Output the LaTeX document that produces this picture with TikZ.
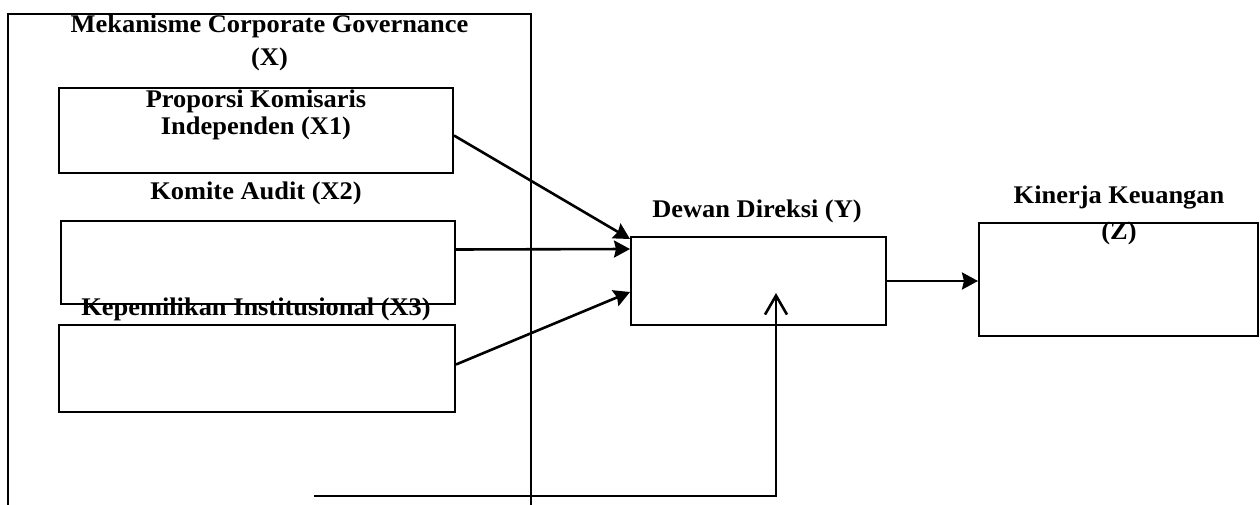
\documentclass[tikz,border=0pt]{standalone}
\usepackage{fontspec}
\setmainfont{Liberation Serif}[FakeStretch=1.04]
\usetikzlibrary{arrows.meta}

\begin{document}
\begin{tikzpicture}[x=1pt,y=-1pt,
  box/.style={draw,line width=2pt,inner sep=0pt},
  lbl/.style={font=\bfseries\fontsize{25.4}{#1}\selectfont,align=center,inner sep=0pt},
  lbl/.default=27,
  link/.style={line width=2.6pt,-{Stealth[length=16pt,width=17pt,inset=2pt]}}]
\useasboundingbox (0,0) rectangle (1260,505);

% outer frame (open at the bottom)
\draw[line width=2pt] (8,505) -- (8,14) -- (531,14) -- (531,505);

\node[box,minimum width=394pt,minimum height=85pt] (X1) at (256,130.5) {};
\node[box,minimum width=394pt,minimum height=83pt] (X2) at (258,262.5) {};
\node[box,minimum width=396pt,minimum height=87pt] (X3) at (257,368.5) {};
\node[box,minimum width=255pt,minimum height=88pt] (Y) at (758.5,281) {};
\node[box,minimum width=279pt,minimum height=113pt] (Z) at (1118.5,279.5) {};

\node[lbl=33] (title) at (269.5,42.5) {Mekanisme Corporate Governance\\(X)};
\node[lbl] (x1lbl) at (256,115) {Proporsi Komisaris\\Independen (X1)};
\node[lbl] (x2lbl) at (256,193.5) {Komite Audit (X2)};
\node[lbl] (x3lbl) at (256,309) {Kepemilikan Institusional (X3)};
\node[lbl] (ylbl) at (757,211.5) {Dewan Direksi (Y)};
\node[lbl=36] (zlbl) at (1119,215) {Kinerja Keuangan\\(Z)};

% arrows into Y
\draw[link] ([yshift=-5pt]X1.east) -- ([yshift=-3pt]Y.north west);
\draw[link] ([yshift=13pt]X2.east) -- ([yshift=-13pt]Y.north west);
\draw[link] ([yshift=4pt]X3.east) -- ([yshift=-56pt]Y.north west);
\draw[link] (Y.east) -- (Y.east -| Z.west);

% feedback line
\coordinate (fbstart) at (314,496);
\coordinate (fbtip) at (776,293);
\draw[line width=2.6pt,-{Straight Barb[length=19pt,width=22pt]}] (fbstart) -| (fbtip);
\end{tikzpicture}
\end{document}
